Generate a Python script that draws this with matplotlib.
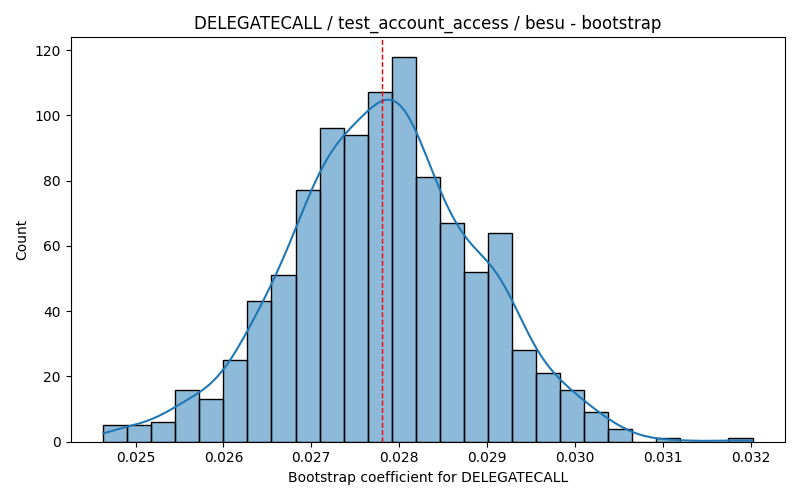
import numpy as np
import pandas as pd
import matplotlib
matplotlib.use('Agg')
import matplotlib.pyplot as plt
import seaborn as sns

# Histogram: 27 bins over the bootstrap range
bin_lo = 0.024631
bin_hi = 0.032023
counts = [5, 5, 6, 16, 13, 25, 43, 51, 77, 96, 94, 107, 118, 81, 67,
          52, 64, 28, 21, 16, 9, 4, 0, 1, 0, 0, 1]
point_estimate = 0.027805

title = 'DELEGATECALL / test_account_access / besu - bootstrap'
xlabel = 'Bootstrap coefficient for DELEGATECALL'

edges = np.linspace(bin_lo, bin_hi, len(counts) + 1)
centers = (edges[:-1] + edges[1:]) / 2
df = pd.DataFrame({'coef': centers, 'n': counts})

fig, ax = plt.subplots(figsize=(8, 5), dpi=100)

# weights stand in for the 1000 resamples; bw_adjust brings the kde
# bandwidth back to what n=1000 would give, cut keeps it inside the bins
sns.histplot(data=df, x='coef', weights='n', bins=list(edges), kde=True, ax=ax,
             kde_kws={'bw_adjust': 0.42, 'cut': 0.28})
ax.axvline(point_estimate, color='red', linestyle='--', linewidth=1)

ax.set_title(title)
ax.set_xlabel(xlabel)
ax.set_ylabel('Count')

plt.tight_layout()
plt.savefig('out.png', dpi=100)
plt.close()
